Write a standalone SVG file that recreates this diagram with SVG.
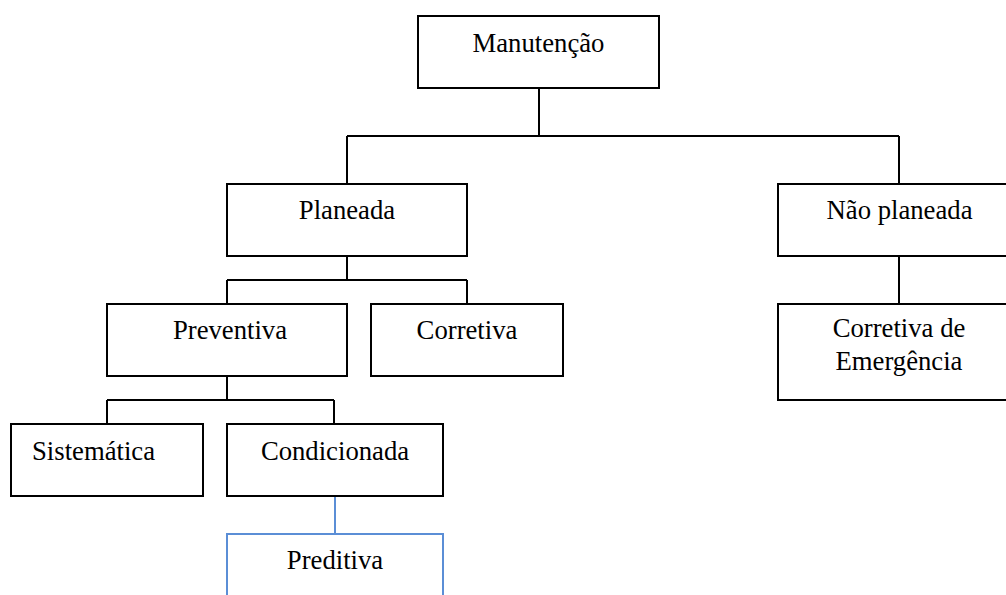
<svg xmlns="http://www.w3.org/2000/svg" width="1006" height="595" viewBox="0 0 1006 595">
  <style>
    .box { fill: #ffffff; stroke: #000000; stroke-width: 2; }
    .box-blue { fill: #ffffff; stroke: #5B8ED6; stroke-width: 2; }
    .lbl { font-family: "Liberation Serif", "Times New Roman", serif; font-size: 26.7px; fill: #000000; text-anchor: middle; }
    .lbl-left { font-family: "Liberation Serif", "Times New Roman", serif; font-size: 26.7px; fill: #000000; }
    .conn { fill: none; stroke: #000000; stroke-width: 2; }
    .conn-blue { fill: none; stroke: #5B8ED6; stroke-width: 2; }
  </style>
  <rect width="1006" height="595" fill="#ffffff"/>

  <!-- connectors -->
  <g id="connectors">
    <path class="conn" d="M539 88 V136 M347 136 H899 M347 136 V184 M899 136 V184"/>
    <path class="conn" d="M347 256 V280 M227 280 H467 M227 280 V304 M467 280 V304"/>
    <path class="conn" d="M227 376 V400 M107 400 H334 M107 400 V424 M334 400 V424"/>
    <path class="conn" d="M899 256 V304"/>
    <path class="conn-blue" d="M335 496 V534"/>
  </g>

  <g id="manutencao">
    <rect class="box" x="418" y="16" width="241" height="72"/>
    <text class="lbl" x="538.5" y="52">Manutenção</text>
  </g>

  <g id="planeada">
    <rect class="box" x="227" y="184" width="240" height="72"/>
    <text class="lbl" x="347" y="219">Planeada</text>
  </g>

  <g id="nao-planeada">
    <rect class="box" x="778" y="184" width="240" height="72"/>
    <text class="lbl" x="899.5" y="219">Não planeada</text>
  </g>

  <g id="preventiva">
    <rect class="box" x="107" y="304" width="240" height="72"/>
    <text class="lbl" x="230" y="339">Preventiva</text>
  </g>

  <g id="corretiva">
    <rect class="box" x="371" y="304" width="192" height="72"/>
    <text class="lbl" x="467" y="339">Corretiva</text>
  </g>

  <g id="corretiva-emergencia">
    <rect class="box" x="778" y="304" width="240" height="96"/>
    <text class="lbl" x="899" y="337">Corretiva de</text>
    <text class="lbl" x="899" y="370">Emergência</text>
  </g>

  <g id="sistematica">
    <rect class="box" x="11" y="424" width="192" height="72"/>
    <text class="lbl-left" x="32" y="460">Sistemática</text>
  </g>

  <g id="condicionada">
    <rect class="box" x="227" y="424" width="216" height="72"/>
    <text class="lbl" x="335" y="460">Condicionada</text>
  </g>

  <g id="preditiva">
    <rect class="box-blue" x="227" y="534" width="216" height="80"/>
    <text class="lbl" x="335" y="569">Preditiva</text>
  </g>
</svg>
